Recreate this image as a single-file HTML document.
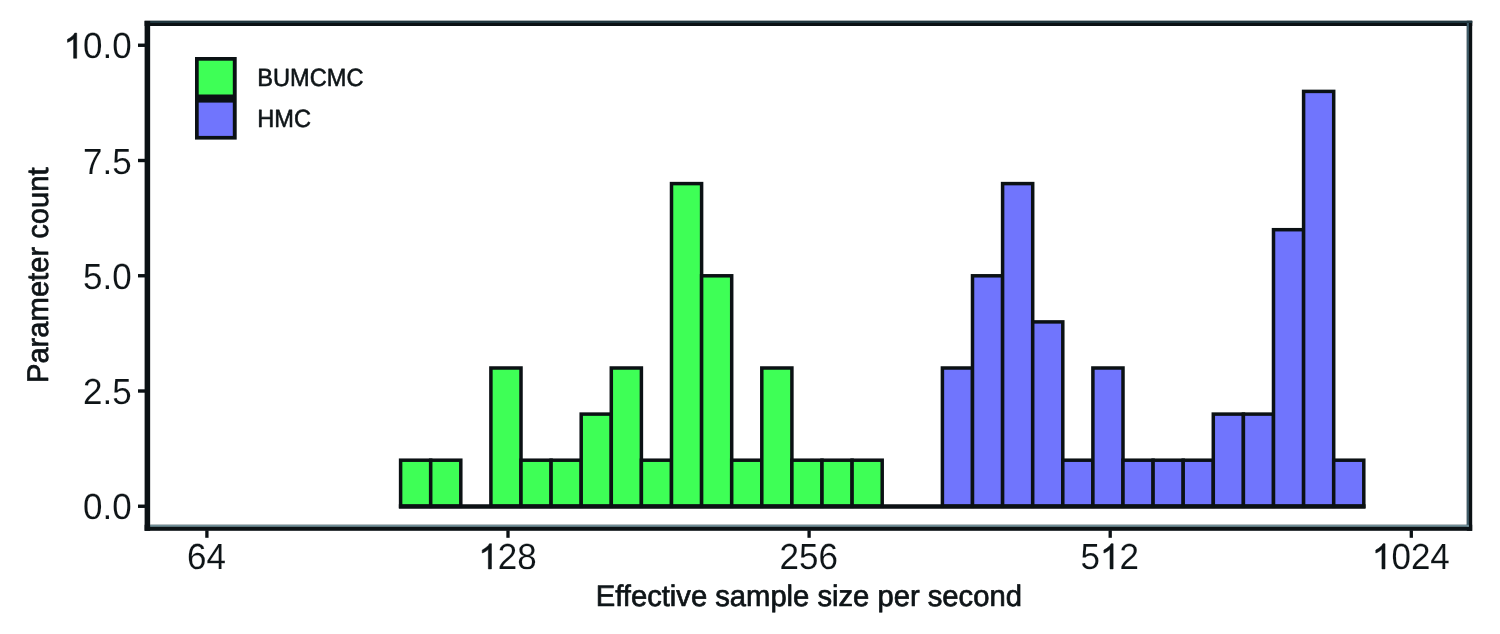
<!DOCTYPE html>
<html><head><meta charset="utf-8"><title>Histogram: effective sample size per second</title>
<style>
html,body{margin:0;padding:0;background:#fff;}
body{width:1500px;height:634px;overflow:hidden;}
svg{display:block;will-change:transform;}
text{font-family:"Liberation Sans",sans-serif;text-rendering:geometricPrecision;fill:#0e1417;stroke:#0e1417;stroke-linejoin:round;}
.tk text{font-size:35.00px;stroke-width:0.10;stroke:#fff;}
.tk path{fill:#0e1417;stroke:#0e1417;stroke-linejoin:round;}
.ti{font-size:29.20px;stroke-width:0.70;}
.lg{font-size:23.60px;stroke-width:0.55;}
</style></head><body>
<svg width="1500" height="634" viewBox="0 0 1500 634">
<rect x="0" y="0" width="1500" height="634" fill="#ffffff"/>
<g stroke="#0b1114" stroke-width="3.50">
<rect x="400.60" y="460.20" width="30.10" height="46.10" fill="#3eff56"/>
<rect x="430.70" y="460.20" width="30.10" height="46.10" fill="#3eff56"/>
<rect x="490.90" y="368.00" width="30.10" height="138.30" fill="#3eff56"/>
<rect x="521.00" y="460.20" width="30.10" height="46.10" fill="#3eff56"/>
<rect x="551.10" y="460.20" width="30.10" height="46.10" fill="#3eff56"/>
<rect x="581.20" y="414.10" width="30.10" height="92.20" fill="#3eff56"/>
<rect x="611.30" y="368.00" width="30.10" height="138.30" fill="#3eff56"/>
<rect x="641.40" y="460.20" width="30.10" height="46.10" fill="#3eff56"/>
<rect x="671.50" y="183.60" width="30.10" height="322.70" fill="#3eff56"/>
<rect x="701.60" y="275.80" width="30.10" height="230.50" fill="#3eff56"/>
<rect x="731.70" y="460.20" width="30.10" height="46.10" fill="#3eff56"/>
<rect x="761.80" y="368.00" width="30.10" height="138.30" fill="#3eff56"/>
<rect x="791.90" y="460.20" width="30.10" height="46.10" fill="#3eff56"/>
<rect x="822.00" y="460.20" width="30.10" height="46.10" fill="#3eff56"/>
<rect x="852.10" y="460.20" width="30.10" height="46.10" fill="#3eff56"/>
<rect x="942.40" y="368.00" width="30.10" height="138.30" fill="#7075fd"/>
<rect x="972.50" y="275.80" width="30.10" height="230.50" fill="#7075fd"/>
<rect x="1002.60" y="183.60" width="30.10" height="322.70" fill="#7075fd"/>
<rect x="1032.70" y="321.90" width="30.10" height="184.40" fill="#7075fd"/>
<rect x="1062.80" y="460.20" width="30.10" height="46.10" fill="#7075fd"/>
<rect x="1092.90" y="368.00" width="30.10" height="138.30" fill="#7075fd"/>
<rect x="1123.00" y="460.20" width="30.10" height="46.10" fill="#7075fd"/>
<rect x="1153.10" y="460.20" width="30.10" height="46.10" fill="#7075fd"/>
<rect x="1183.20" y="460.20" width="30.10" height="46.10" fill="#7075fd"/>
<rect x="1213.30" y="414.10" width="30.10" height="92.20" fill="#7075fd"/>
<rect x="1243.40" y="414.10" width="30.10" height="92.20" fill="#7075fd"/>
<rect x="1273.50" y="229.70" width="30.10" height="276.60" fill="#7075fd"/>
<rect x="1303.60" y="91.40" width="30.10" height="414.90" fill="#7075fd"/>
<rect x="1333.70" y="460.20" width="30.10" height="46.10" fill="#7075fd"/>
<line x1="398.85" y1="506.45" x2="1365.55" y2="506.45" stroke-width="4.4"/>
</g>
<g fill="#0b1114">
<rect x="144.60" y="20.80" width="5.55" height="510.00"/>
<rect x="144.60" y="20.80" width="1327.60" height="5.20"/>
<rect x="1466.80" y="20.80" width="5.40" height="510.00"/>
<rect x="144.60" y="524.80" width="1327.60" height="6.00"/>
<rect x="138.0" y="504.55" width="7" height="3.4"/>
<rect x="138.0" y="389.30" width="7" height="3.4"/>
<rect x="138.0" y="274.05" width="7" height="3.4"/>
<rect x="138.0" y="158.80" width="7" height="3.4"/>
<rect x="138.0" y="43.55" width="7" height="3.4"/>
<rect x="205.25" y="530.30" width="3.3" height="7.5"/>
<rect x="506.35" y="530.30" width="3.3" height="7.5"/>
<rect x="807.45" y="530.30" width="3.3" height="7.5"/>
<rect x="1108.55" y="530.30" width="3.3" height="7.5"/>
<rect x="1409.65" y="530.30" width="3.3" height="7.5"/>
</g>
<rect x="150.15" y="20.80" width="1322.05" height="2.2" fill="#20373f"/>
<rect x="1466.80" y="23.00" width="2.1" height="504.00" fill="#3f5c68"/>
<rect x="150.15" y="524.80" width="1318.75" height="2.0" fill="#6f8e97"/>
<g transform="translate(83.12,519.25) scale(1,1.040)" class="tk"><text x="0.00" y="0">0</text><text x="19.46" y="0">.</text><text x="29.19" y="0">0</text></g>
<g transform="translate(83.12,404.00) scale(1,1.040)" class="tk"><text x="0.00" y="0">2</text><text x="19.46" y="0">.</text><text x="29.19" y="0">5</text></g>
<g transform="translate(83.12,288.75) scale(1,1.040)" class="tk"><text x="0.00" y="0">5</text><text x="19.46" y="0">.</text><text x="29.19" y="0">0</text></g>
<g transform="translate(83.12,173.50) scale(1,1.040)" class="tk"><text x="0.00" y="0">7</text><text x="19.46" y="0">.</text><text x="29.19" y="0">5</text></g>
<g transform="translate(63.66,58.25) scale(1,1.040)" class="tk"><path d="M372.6 0H284.7V560.1C263.7 540 235.8 520 201.7 500C167.5 480 136.7 464.8 109.4 455.1V540C158.2 563 201.2 590.8 237.8 623.5C274.4 656.3 300.3 688 315.9 718.8H372.6Z" transform="translate(0.00,0) scale(0.03500,-0.03365)" stroke-width="15.7"/><text x="19.46" y="0">0</text><text x="38.92" y="0">.</text><text x="48.65" y="0">0</text></g>
<g transform="translate(187.04,568.90) scale(1,1.040)" class="tk"><text x="0.00" y="0">6</text><text x="19.46" y="0">4</text></g>
<g transform="translate(478.41,568.90) scale(1,1.040)" class="tk"><path d="M372.6 0H284.7V560.1C263.7 540 235.8 520 201.7 500C167.5 480 136.7 464.8 109.4 455.1V540C158.2 563 201.2 590.8 237.8 623.5C274.4 656.3 300.3 688 315.9 718.8H372.6Z" transform="translate(0.00,0) scale(0.03500,-0.03365)" stroke-width="15.7"/><text x="19.46" y="0">2</text><text x="38.92" y="0">8</text></g>
<g transform="translate(779.51,568.90) scale(1,1.040)" class="tk"><text x="0.00" y="0">2</text><text x="19.46" y="0">5</text><text x="38.92" y="0">6</text></g>
<g transform="translate(1080.61,568.90) scale(1,1.040)" class="tk"><text x="0.00" y="0">5</text><path d="M372.6 0H284.7V560.1C263.7 540 235.8 520 201.7 500C167.5 480 136.7 464.8 109.4 455.1V540C158.2 563 201.2 590.8 237.8 623.5C274.4 656.3 300.3 688 315.9 718.8H372.6Z" transform="translate(19.46,0) scale(0.03500,-0.03365)" stroke-width="15.7"/><text x="38.92" y="0">2</text></g>
<g transform="translate(1371.98,568.90) scale(1,1.040)" class="tk"><path d="M372.6 0H284.7V560.1C263.7 540 235.8 520 201.7 500C167.5 480 136.7 464.8 109.4 455.1V540C158.2 563 201.2 590.8 237.8 623.5C274.4 656.3 300.3 688 315.9 718.8H372.6Z" transform="translate(0.00,0) scale(0.03500,-0.03365)" stroke-width="15.7"/><text x="19.46" y="0">0</text><text x="38.92" y="0">2</text><text x="58.38" y="0">4</text></g>
<text class="ti" transform="translate(808.8,606.1) scale(1,1.020)" text-anchor="middle">Effective sample size per second</text>
<text class="ti" transform="translate(48.3,275.2) rotate(-90) scale(1,1.020)" text-anchor="middle">Parameter count</text>
<rect x="195.0" y="57.0" width="41.7" height="82.6" fill="#0b1114"/>
<rect x="198.7" y="60.7" width="34.1" height="33.8" fill="#3eff56"/>
<rect x="198.7" y="102.6" width="34.1" height="33.3" fill="#7075fd"/>
<text class="lg" transform="translate(257.3,85.6) scale(1,1.055)">BUMCMC</text>
<text class="lg" transform="translate(257.3,127.3) scale(1,1.055)">HMC</text>
</svg>
</body></html>
